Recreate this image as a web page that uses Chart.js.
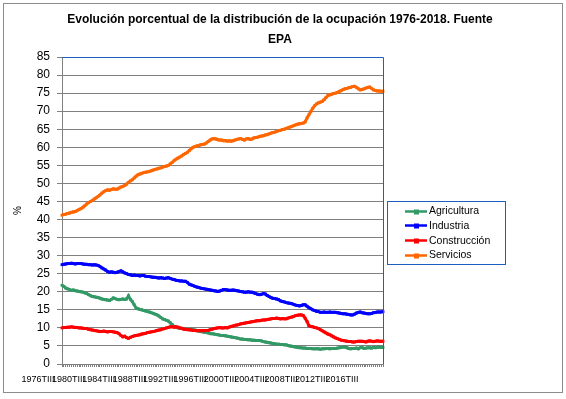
<!DOCTYPE html>
<html>
<head>
<meta charset="utf-8">
<script src="https://cdn.jsdelivr.net/npm/chart.js@4"></script>
<style>
  html, body { margin: 0; padding: 0; background: #fff; }
  #wrap { width: 566px; height: 399px; }
</style>
</head>
<body>
<div id="wrap"><canvas id="epaChart" width="566" height="399"></canvas></div>
<script>
const TITLE = ['Evolución porcentual de la distribución de la ocupación 1976-2018. Fuente', 'EPA'];
const SERIES_NAMES = ['Agricultura', 'Industria', 'Construcción', 'Servicios'];
const SERIES_COLORS = ['#339966', '#0000ff', '#ff0000', '#ff6600'];
const Y_TICKS = { min: 0, max: 85, step: 5 };
const TICK_EVERY = 16;
const ROMAN = ['I', 'II', 'III', 'IV'];

// quarters 1976TIII .. 2018TIV
const quarters = [];
for (let y = 1976; y <= 2018; y++) {
    for (let q = 1; q <= 4; q++) {
        if (y === 1976 && q < 3) continue;
        quarters.push(y + 'T' + ROMAN[q - 1]);
    }
}

const agricultura = [
    21.8, 21.5, 21.0, 20.8, 20.6, 20.4, 20.5, 20.3, 20.2, 20.1,
    20.0, 19.9, 19.7, 19.5, 19.2, 18.9, 18.7, 18.6, 18.5, 18.4,
    18.2, 18.0, 17.9, 17.8, 17.7, 17.6, 17.9, 18.3, 18.1, 17.9,
    17.8, 17.9, 18.0, 17.9, 18.0, 18.9, 17.9, 17.3, 16.4, 15.5,
    15.3, 15.1, 15.0, 14.8, 14.7, 14.5, 14.4, 14.2, 14.0, 13.8,
    13.6, 13.3, 12.9, 12.5, 12.3, 12.1, 11.9, 11.4, 10.9, 10.4,
    10.2, 10.0, 9.9, 9.8, 9.7, 9.6, 9.6, 9.5, 9.6, 9.5,
    9.4, 9.3, 9.1, 9.0, 8.9, 8.8, 8.7, 8.6, 8.4, 8.4,
    8.3, 8.2, 8.1, 8.0, 7.9, 7.9, 7.8, 7.7, 7.6, 7.5,
    7.4, 7.3, 7.2, 7.1, 6.9, 6.9, 6.8, 6.8, 6.7, 6.7,
    6.6, 6.6, 6.5, 6.5, 6.5, 6.4, 6.2, 6.1, 6.0, 5.9,
    5.8, 5.7, 5.6, 5.5, 5.5, 5.4, 5.4, 5.3, 5.3, 5.1,
    5.0, 4.9, 4.8, 4.7, 4.6, 4.5, 4.5, 4.4, 4.4, 4.3,
    4.3, 4.3, 4.2, 4.2, 4.2, 4.2, 4.1, 4.2, 4.2, 4.3,
    4.3, 4.2, 4.3, 4.3, 4.3, 4.4, 4.5, 4.6, 4.7, 4.7,
    4.5, 4.3, 4.2, 4.3, 4.3, 4.4, 4.2, 4.5, 4.6, 4.3,
    4.4, 4.5, 4.5, 4.4, 4.6, 4.5, 4.6, 4.7, 4.6, 4.6
];

const industria = [
    27.5, 27.6, 27.7, 27.8, 27.8, 27.9, 27.8, 27.7, 27.8, 27.8,
    27.8, 27.7, 27.6, 27.6, 27.5, 27.5, 27.4, 27.5, 27.4, 27.3,
    27.0, 26.6, 26.3, 26.0, 25.6, 25.4, 25.5, 25.4, 25.3, 25.4,
    25.6, 25.8, 25.5, 25.2, 25.0, 24.8, 24.7, 24.5, 24.6, 24.5,
    24.5, 24.4, 24.5, 24.5, 24.3, 24.2, 24.2, 24.1, 24.0, 24.0,
    23.9, 23.8, 23.9, 23.8, 23.7, 23.8, 23.9, 23.7, 23.5, 23.4,
    23.2, 23.1, 23.0, 23.0, 22.9, 22.9, 22.6, 22.1, 21.9, 21.7,
    21.5, 21.3, 21.2, 21.0, 20.9, 20.8, 20.7, 20.6, 20.5, 20.4,
    20.3, 20.2, 20.1, 20.2, 20.4, 20.6, 20.6, 20.5, 20.4, 20.4,
    20.5, 20.4, 20.3, 20.2, 20.1, 20.0, 19.9, 19.9, 20.0, 19.9,
    19.9, 19.7, 19.5, 19.3, 19.2, 19.3, 19.5, 19.4, 19.0, 18.7,
    18.4, 18.2, 18.1, 18.0, 17.8, 17.5, 17.3, 17.2, 17.0, 16.9,
    16.8, 16.7, 16.5, 16.3, 16.2, 16.1, 16.2, 16.4, 16.4, 16.0,
    15.6, 15.3, 15.0, 14.8, 14.6, 14.5, 14.3, 14.3, 14.4, 14.3,
    14.3, 14.4, 14.3, 14.3, 14.3, 14.2, 14.1, 14.0, 13.9, 13.9,
    13.8, 13.7, 13.6, 13.6, 13.8, 14.1, 14.3, 14.4, 14.2, 14.1,
    14.0, 13.9, 13.9, 14.0, 14.2, 14.3, 14.4, 14.4, 14.4, 14.5
];

const construccion = [
    10.0, 10.1, 10.1, 10.2, 10.2, 10.3, 10.2, 10.1, 10.1, 10.0,
    10.0, 9.9, 9.8, 9.8, 9.6, 9.5, 9.4, 9.3, 9.2, 9.1,
    9.0, 9.0, 9.1, 9.0, 8.9, 9.0, 9.0, 8.9, 8.8, 8.7,
    8.4, 7.9, 7.5, 7.7, 7.3, 7.1, 7.4, 7.6, 7.8, 7.9,
    8.0, 8.1, 8.3, 8.4, 8.5, 8.7, 8.8, 8.9, 9.0, 9.1,
    9.3, 9.4, 9.5, 9.7, 9.8, 10.0, 10.1, 10.3, 10.3, 10.2,
    10.3, 10.2, 10.0, 9.9, 9.7, 9.6, 9.5, 9.5, 9.4, 9.3,
    9.3, 9.2, 9.3, 9.2, 9.3, 9.2, 9.3, 9.3, 9.5, 9.6,
    9.8, 9.9, 10.0, 10.1, 10.0, 10.0, 10.1, 10.0, 10.2, 10.4,
    10.5, 10.7, 10.8, 10.9, 11.1, 11.2, 11.3, 11.4, 11.5, 11.6,
    11.7, 11.8, 11.9, 12.0, 12.0, 12.1, 12.2, 12.2, 12.3, 12.4,
    12.5, 12.6, 12.6, 12.7, 12.6, 12.5, 12.6, 12.5, 12.5, 12.7,
    12.9, 13.0, 13.2, 13.4, 13.5, 13.6, 13.6, 13.4, 12.7, 11.8,
    10.6, 10.4, 10.3, 10.1, 10.0, 9.8, 9.5, 9.2, 8.9, 8.6,
    8.3, 8.1, 7.8, 7.5, 7.2, 7.0, 6.8, 6.6, 6.5, 6.4,
    6.3, 6.2, 6.2, 6.1, 6.1, 6.2, 6.3, 6.3, 6.3, 6.2,
    6.1, 6.3, 6.4, 6.3, 6.2, 6.3, 6.4, 6.3, 6.3, 6.3
];

const servicios = [
    41.2, 41.4, 41.5, 41.7, 41.8, 42.0, 42.1, 42.2, 42.5, 42.8,
    43.0, 43.4, 43.8, 44.3, 44.7, 45.0, 45.3, 45.7, 46.0, 46.4,
    46.8, 47.3, 47.7, 48.0, 48.2, 48.1, 48.3, 48.5, 48.4, 48.4,
    48.7, 49.0, 49.2, 49.4, 49.8, 50.3, 50.7, 51.0, 51.5, 52.0,
    52.4, 52.6, 52.8, 53.0, 53.1, 53.2, 53.3, 53.5, 53.7, 53.9,
    54.0, 54.2, 54.3, 54.5, 54.7, 54.8, 55.0, 55.4, 55.8, 56.3,
    56.7, 57.0, 57.3, 57.6, 58.0, 58.3, 58.6, 59.1, 59.6, 60.0,
    60.2, 60.4, 60.5, 60.7, 60.8, 60.9, 61.2, 61.6, 62.0, 62.3,
    62.4, 62.3, 62.1, 62.0, 62.0, 61.8, 61.9, 61.7, 61.8, 61.7,
    61.8, 62.0, 62.2, 62.3, 62.4, 62.2, 62.0, 62.3, 62.4, 62.2,
    62.3, 62.6, 62.7, 62.8, 63.0, 63.1, 63.2, 63.4, 63.5, 63.7,
    63.9, 64.1, 64.2, 64.4, 64.6, 64.7, 64.9, 65.0, 65.2, 65.4,
    65.6, 65.8, 66.0, 66.2, 66.4, 66.5, 66.6, 66.7, 67.0, 68.1,
    69.0, 69.9, 70.8, 71.5, 72.0, 72.3, 72.5, 72.7, 73.2, 73.8,
    74.3, 74.5, 74.7, 74.9, 75.0, 75.2, 75.5, 75.7, 76.0, 76.2,
    76.3, 76.5, 76.6, 76.8, 76.9, 76.6, 76.2, 75.9, 76.0, 76.2,
    76.4, 76.6, 76.7, 76.3, 75.9, 75.7, 75.6, 75.6, 75.5, 75.5
];

const seriesValues = [agricultura, industria, construccion, servicios];

const FONT = "'Liberation Sans', Arial, sans-serif";

// frame, title, plot border and boxed legend (Excel style)
const excelDeco = {
    id: 'excelDeco',
    beforeDraw(c) {
        const g = c.ctx;
        g.save();
        g.fillStyle = '#fff';
        g.fillRect(0, 0, c.width, c.height);
        g.restore();
    },
    afterDraw(c) {
        const g = c.ctx;
        const a = c.chartArea;
        g.save();
        // outer frame
        g.strokeStyle = '#8c8c8c';
        g.lineWidth = 1;
        g.strokeRect(3.5, 3.5, 559, 389);
        // plot border top / right
        g.strokeStyle = '#1f5fbf';
        g.beginPath();
        g.moveTo(a.left, Math.round(a.top) + 0.5);
        g.lineTo(Math.round(a.right) + 0.5, Math.round(a.top) + 0.5);
        g.lineTo(Math.round(a.right) + 0.5, a.bottom);
        g.stroke();
        // title
        g.fillStyle = '#000';
        g.font = 'bold 12px ' + FONT;
        g.textAlign = 'center';
        g.textBaseline = 'middle';
        g.fillText(TITLE[0], 280, 20);
        g.fillText(TITLE[1], 280, 40);
        // legend box
        const lx = 387, ly = 201, lw = 118, lh = 63;
        g.fillStyle = '#fff';
        g.fillRect(lx, ly, lw, lh);
        g.strokeStyle = '#1f5fbf';
        g.strokeRect(lx + 0.5, ly + 0.5, lw, lh);
        g.font = '10.5px ' + FONT;
        g.textAlign = 'left';
        c.data.datasets.forEach((ds, i) => {
            const y = ly + 9.5 + i * 14.7;
            g.strokeStyle = ds.borderColor;
            g.lineWidth = 2.5;
            g.beginPath();
            g.moveTo(lx + 18, Math.round(y) + 0.5);
            g.lineTo(lx + 40, Math.round(y) + 0.5);
            g.stroke();
            g.fillStyle = ds.borderColor;
            g.fillRect(lx + 27, Math.round(y) - 1.5, 5, 5);
            g.fillStyle = '#000';
            g.fillText(ds.label, lx + 42, y + 1);
        });
        g.restore();
    }
};

const chart = new Chart(document.getElementById('epaChart').getContext('2d'), {
    type: 'line',
    data: {
        labels: quarters,
        datasets: SERIES_NAMES.map((name, i) => ({
            label: name,
            data: seriesValues[i],
            borderColor: SERIES_COLORS[i],
            backgroundColor: SERIES_COLORS[i],
            borderWidth: 3,
            pointStyle: 'rect',
            pointRadius: 2,
            pointBorderWidth: 0,
            tension: 0,
            fill: false,
            order: SERIES_NAMES.length - i
        }))
    },
    options: {
        responsive: false,
        animation: false,
        devicePixelRatio: 1,
        layout: { padding: { left: 8, top: 57, right: 183, bottom: 0 } },
        plugins: {
            legend: { display: false },
            title: { display: false },
            tooltip: { enabled: false }
        },
        scales: {
            x: {
                type: 'category',
                offset: false,
                afterFit: s => { s.height = 35; },
                border: { color: '#808080', width: 1 },
                grid: { drawOnChartArea: false, color: '#808080', tickLength: 3 },
                ticks: {
                    autoSkip: false,
                    maxRotation: 0,
                    minRotation: 0,
                    padding: 7,
                    labelOffset: -24,
                    color: '#000',
                    font: { family: FONT, size: 9 },
                    callback: (v, i) => i % TICK_EVERY === 0 ? quarters[i] : ''
                }
            },
            y: {
                min: Y_TICKS.min,
                max: Y_TICKS.max,
                afterFit: s => { s.width = 54; },
                border: { color: '#808080', width: 1 },
                grid: { color: '#808080', tickLength: 5, lineWidth: 1 },
                title: { display: true, text: '%', color: '#000', font: { family: FONT, size: 10 }, padding: 4 },
                ticks: {
                    stepSize: Y_TICKS.step,
                    padding: 7,
                    color: '#000',
                    font: { family: FONT, size: 12 }
                }
            }
        }
    },
    plugins: [excelDeco]
});
</script>
</body>
</html>
